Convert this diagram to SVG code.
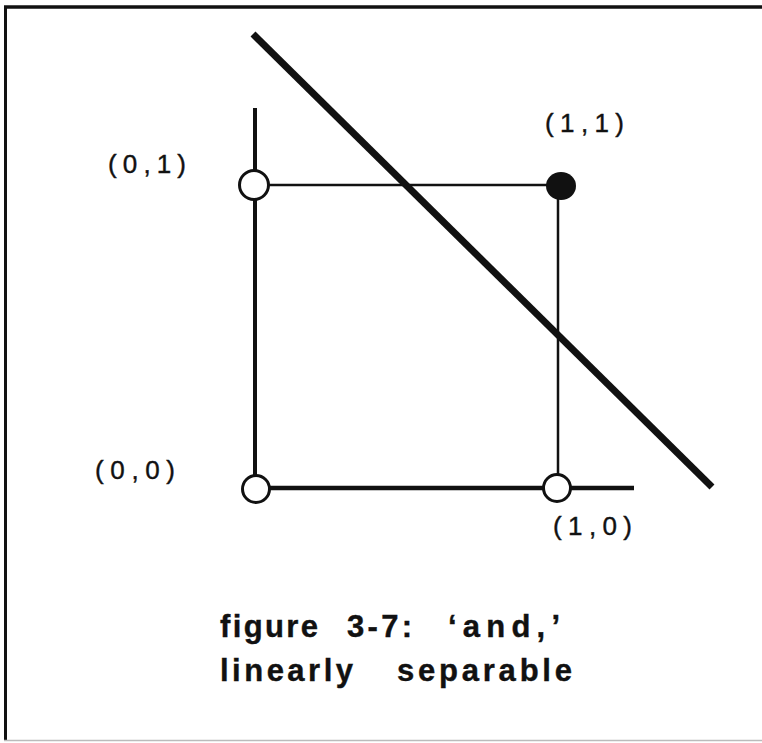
<svg xmlns="http://www.w3.org/2000/svg" width="762" height="743" viewBox="0 0 762 743">
<style>
.lbl{font-family:"Liberation Sans",Arial,sans-serif;font-size:26px;fill:#111;stroke:#111;stroke-width:0.4}
.cap{font-family:"Liberation Sans",Arial,sans-serif;font-size:31px;font-weight:bold;fill:#111;stroke:#111;stroke-width:0.4}
.open{fill:#fff;stroke:#111;stroke-width:3}
</style>
<rect width="762" height="743" fill="#fff"/>
<g id="frame" stroke="#111" fill="none">
<line x1="4" y1="7" x2="762" y2="7" stroke-width="3.5"/>
<line x1="5.5" y1="6" x2="5.5" y2="741" stroke-width="3"/>
<line x1="4" y1="740.5" x2="762" y2="740.5" stroke="#bbb" stroke-width="1.5"/>
</g>
<g id="connectors" stroke="#111" fill="none">
<line x1="255" y1="108" x2="255" y2="489" stroke-width="4"/>
<line x1="255" y1="185" x2="560" y2="185" stroke-width="2.5"/>
<line x1="558" y1="185" x2="558" y2="489" stroke-width="2.5"/>
<line x1="255" y1="488" x2="634" y2="488" stroke-width="4.5"/>
<line x1="253" y1="34" x2="712" y2="487" stroke-width="7"/>
</g>
<g id="n01"><circle class="open" cx="254" cy="185" r="14.5"/><text class="lbl" x="108" y="173" textLength="78" lengthAdjust="spacing">(0,1)</text></g>
<g id="n11"><ellipse cx="561" cy="186" rx="15" ry="14" fill="#111"/><text class="lbl" x="545" y="132" textLength="79" lengthAdjust="spacing">(1,1)</text></g>
<g id="n00"><circle class="open" cx="256" cy="489" r="13.5"/><text class="lbl" x="95" y="479" textLength="80" lengthAdjust="spacing">(0,0)</text></g>
<g id="n10"><circle class="open" cx="557" cy="488" r="13.5"/><text class="lbl" x="553" y="535" textLength="79" lengthAdjust="spacing">(1,0)</text></g>
<g id="caption">
<text class="cap" x="220" y="637" textLength="98" lengthAdjust="spacing">figure</text>
<text class="cap" x="347" y="637" textLength="65" lengthAdjust="spacing">3-7:</text>
<text class="cap" x="448" y="637" textLength="112" lengthAdjust="spacing">‘and,’</text>
<text class="cap" x="220" y="681" textLength="133" lengthAdjust="spacing">linearly</text>
<text class="cap" x="397" y="681" textLength="175" lengthAdjust="spacing">separable</text>
</g>
</svg>
